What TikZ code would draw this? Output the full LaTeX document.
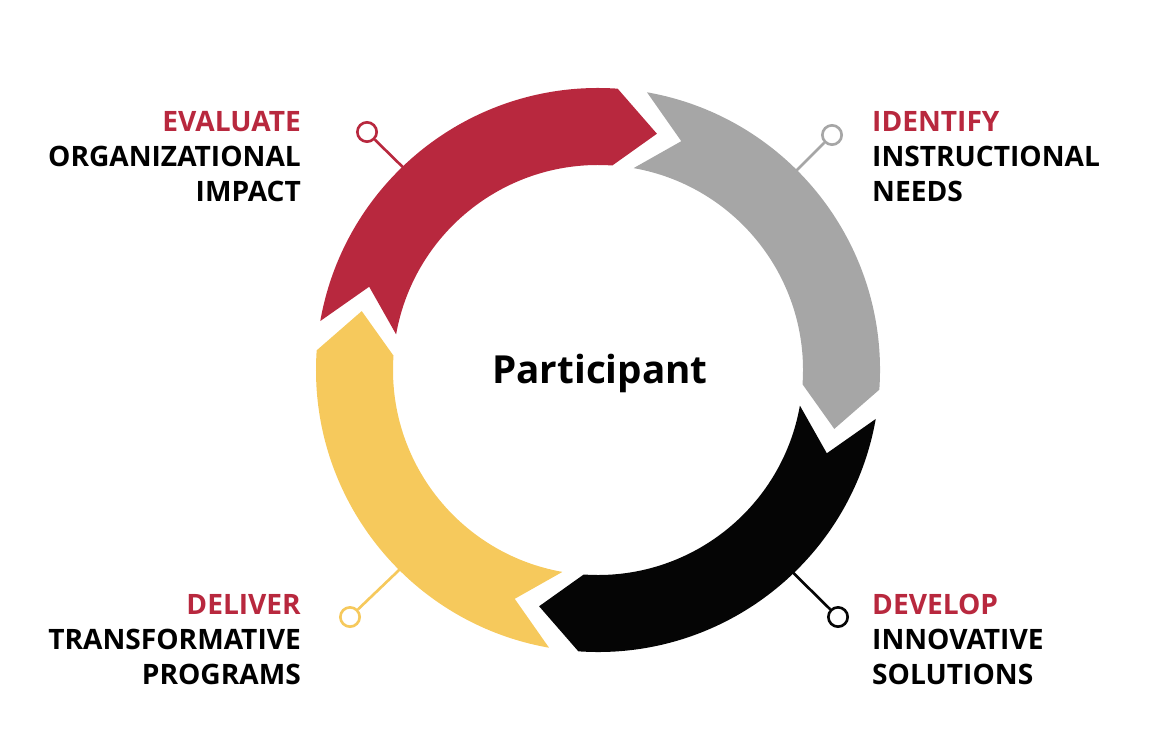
\documentclass[tikz,border=0pt]{standalone}
\usepackage{fontspec}
\setmainfont{Open Sans}
\definecolor{cred}{HTML}{B8283E}
\definecolor{cgray}{HTML}{A6A6A6}
\definecolor{cblack}{HTML}{050505}
\definecolor{cyel}{HTML}{F6C95C}
\begin{document}
\begin{tikzpicture}[x=0.02cm,y=0.02cm,
  lbl/.style={font=\bfseries\fontsize{16}{20}\selectfont},
  pin/.style={circle,draw,line width=1.5pt,fill=white,inner sep=0pt,minimum size=11}]
\useasboundingbox (0,0) rectangle (1158,755);
\def\R{282}\def\r{205}\def\m{243.5}
\foreach \T/\c in {170/cred,80/cgray,-10/cblack,-100/cyel}{
  \fill[\c,shift={(598,385)}] (\T:\R) arc[start angle=\T,end angle=\T-84,radius=\R]
    -- (\T-94:\m) -- (\T-84:\r) arc[start angle=\T-84,end angle=\T,radius=\r]
    -- (\T-10:\m) -- cycle;
}
\node[font=\bfseries\fontsize{22}{26}\selectfont] (p) at (600,382) {Participant};
% pins
\node[pin,draw=cred] (pr) at (367,623) {};
\coordinate (er) at (418,573);
\draw[cred,line width=1.5pt] (pr) -- (er);
\node[pin,draw=cgray] (pg) at (832,620) {};
\coordinate (eg) at (790,578);
\draw[cgray,line width=1.5pt] (pg) -- (eg);
\node[pin,draw=cblack] (pb) at (838,138) {};
\coordinate (eb) at (765,210);
\draw[cblack,line width=1.5pt] (pb) -- (eb);
\node[pin,draw=cyel] (py) at (350,138) {};
\coordinate (ey) at (420,205);
\draw[cyel,line width=1.5pt] (py) -- (ey);
% labels
\node[lbl,align=right,anchor=north east] (t1) at (307,650) {\textcolor{cred}{EVALUATE}\\ORGANIZATIONAL\\IMPACT};
\node[lbl,align=left,anchor=north west] (t2) at (866,650) {\textcolor{cred}{IDENTIFY}\\INSTRUCTIONAL\\NEEDS};
\node[lbl,align=left,anchor=north west] (t3) at (866,167) {\textcolor{cred}{DEVELOP}\\INNOVATIVE\\SOLUTIONS};
\node[lbl,align=right,anchor=north east] (t4) at (307,167) {\textcolor{cred}{DELIVER}\\TRANSFORMATIVE\\PROGRAMS};
\end{tikzpicture}
\end{document}
